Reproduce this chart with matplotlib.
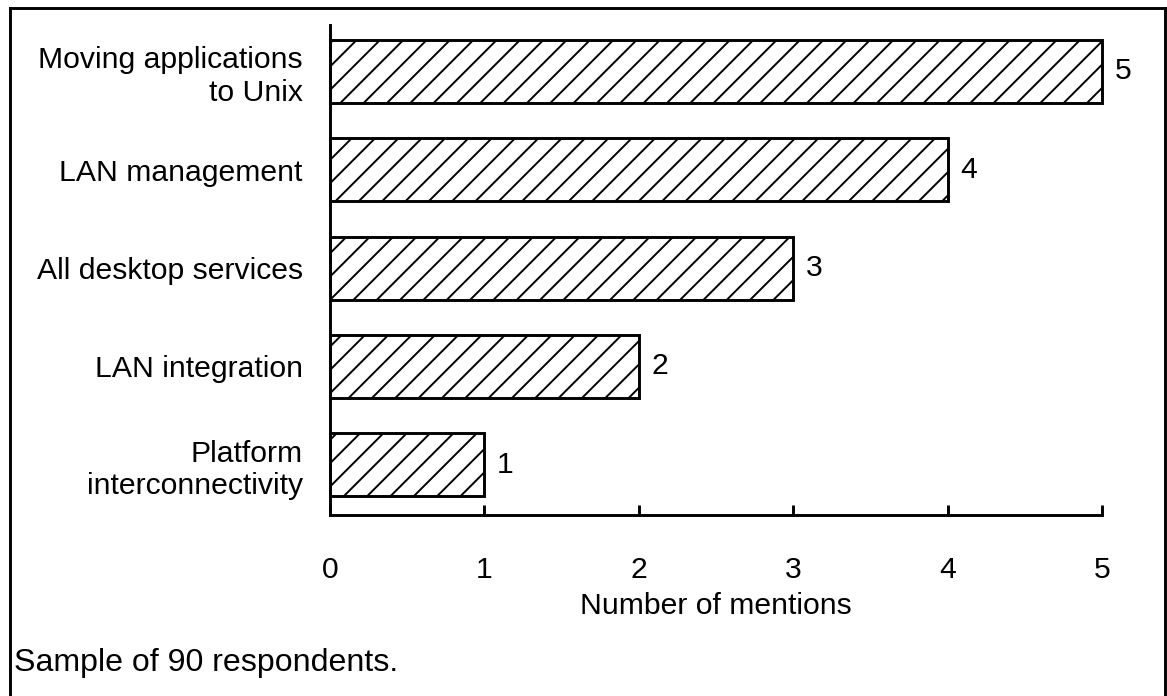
import matplotlib
matplotlib.use("Agg")
import matplotlib.pyplot as plt
from matplotlib.lines import Line2D

DPI = 140
W, H = 1167, 696

categories = ["Platform\ninterconnectivity", "LAN integration",
              "All desktop services", "LAN management",
              "Moving applications\nto Unix"]
mentions = [1, 2, 3, 4, 5]
x_ticks = [0, 1, 2, 3, 4, 5]
note = "Sample of 90 respondents."

plt.rcParams["font.family"] = ["Liberation Sans", "DejaVu Sans"]
plt.rcParams["hatch.linewidth"] = 1.0
FS = 15.5


def main():
    fig = plt.figure(figsize=(W / DPI, H / DPI), dpi=DPI)
    fig.patch.set_facecolor("white")

    # axes placed by pixel positions
    left, right, top, bottom = 330, 1102, 25, 515
    ax = fig.add_axes([left / W, 1 - bottom / H, (right - left) / W, (bottom - top) / H])

    y = list(range(len(categories)))
    ax.barh(y, mentions, height=0.64, color="white", edgecolor="black",
            linewidth=1.5, hatch="//", clip_on=False)

    for yi, v in zip(y, mentions):
        ax.text(v + 0.08, yi, str(v), va="center", ha="left", fontsize=FS)

    ax.set_xlim(0, 5)
    ax.set_ylim(-0.51, 4.47)
    ax.set_yticks(y)
    ax.set_yticklabels(categories, fontsize=FS, ha="right",
                       linespacing=1.2)
    ax.tick_params(axis="y", length=0, pad=14)
    ax.set_xticks(x_ticks)
    ax.set_xticklabels([str(t) for t in x_ticks], fontsize=FS)
    ax.tick_params(axis="x", direction="in", length=5, width=1.5, pad=21)
    ax.set_xlabel("Number of mentions", fontsize=FS, labelpad=4)

    for s in ["top", "right"]:
        ax.spines[s].set_visible(False)
    for s in ["left", "bottom"]:
        ax.spines[s].set_linewidth(1.5)

    # frame around the figure (bottom edge is cut off in the source)
    bx0, bx1, by0 = 10 / W, 1165 / W, 1 - 8 / H
    for xs, ys in [([bx0, bx1], [by0, by0]), ([bx0, bx0], [by0, -0.01]),
                   ([bx1, bx1], [by0, -0.01])]:
        fig.add_artist(Line2D(xs, ys, color="black", linewidth=1.5,
                              transform=fig.transFigure))

    fig.text(14 / W, 1 - 663 / H, note, fontsize=16.5, va="center", ha="left")

    fig.savefig("out.png", dpi=DPI)


main()
